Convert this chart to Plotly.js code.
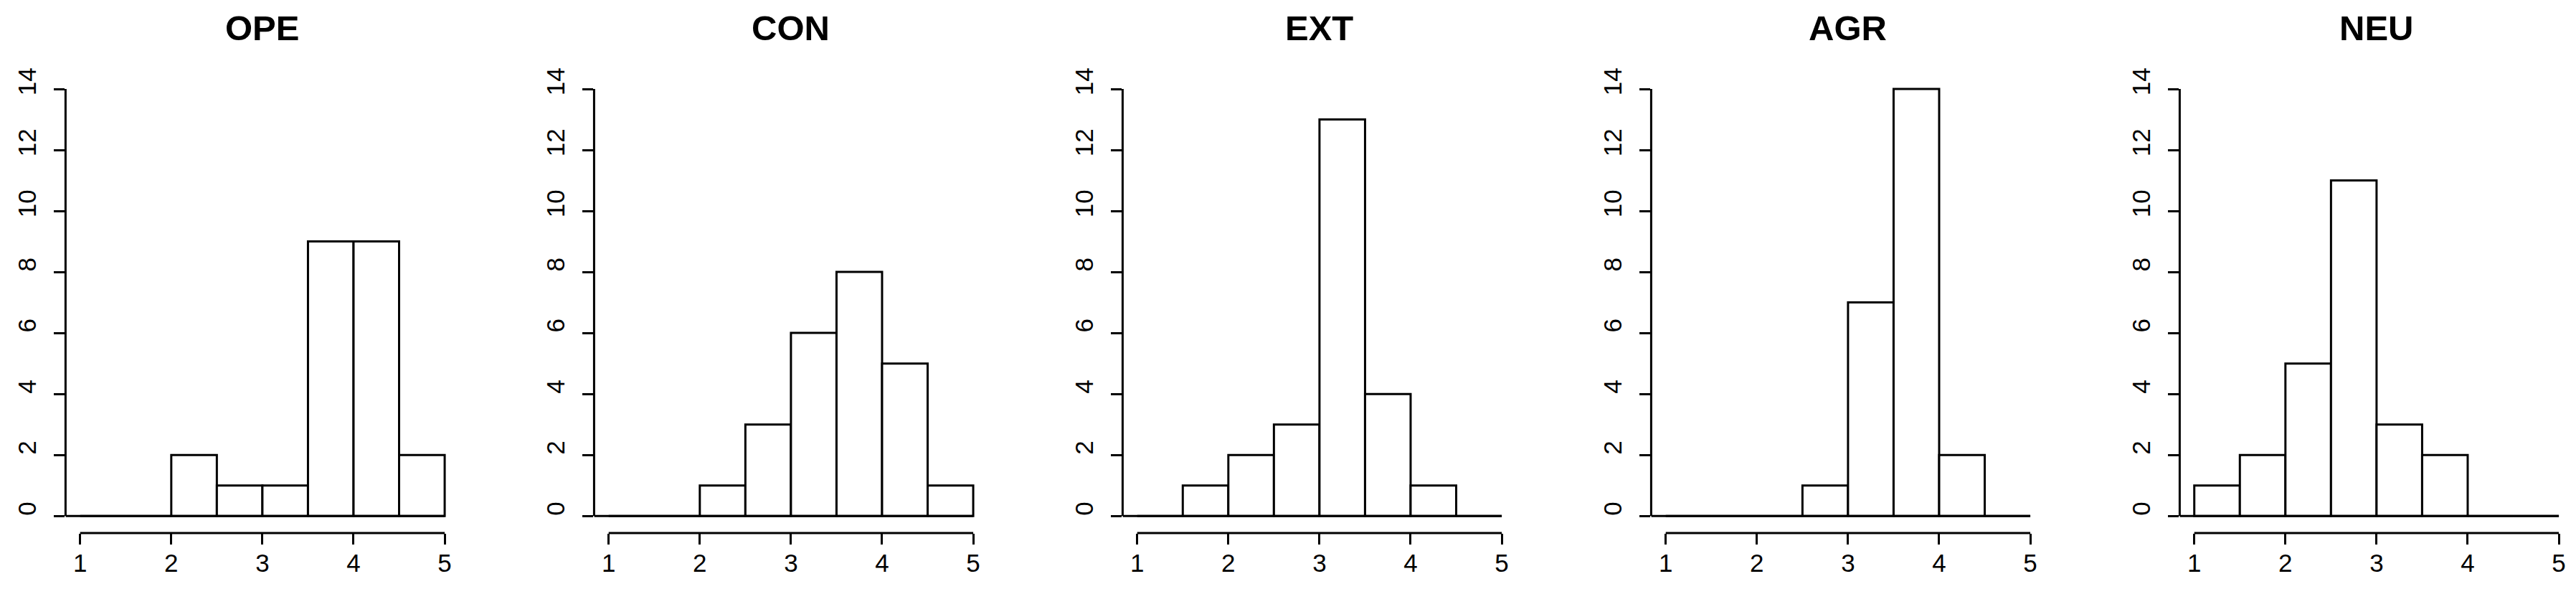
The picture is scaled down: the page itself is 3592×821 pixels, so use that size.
<!DOCTYPE html>
<html>
<head>
<meta charset="utf-8">
<script src="https://cdn.plot.ly/plotly-3.0.1.min.js"></script>
<style>
  html, body { margin: 0; padding: 0; background: #fff; }
  #chart { width: 3592px; height: 821px; }
</style>
</head>
<body>
<div id="chart"></div>
<script>
// 直方圖資料：五個人格向度，每格寬 0.5
const breaks = [1, 1.5, 2, 2.5, 3, 3.5, 4, 4.5, 5];
const traitNames = ['OPE', 'CON', 'EXT', 'AGR', 'NEU'];
const opeCounts = [0, 0, 2, 1, 1, 9, 9, 2];
const conCounts = [0, 0, 1, 3, 6, 8, 5, 1];
const extCounts = [0, 1, 2, 3, 13, 4, 1, 0];
const agrCounts = [0, 0, 0, 1, 7, 14, 2, 0];
const neuCounts = [1, 2, 5, 11, 3, 2, 0, 0];
const xTicks = [1, 2, 3, 4, 5];
const yTicks = [0, 2, 4, 6, 8, 10, 12, 14];

const allCounts = [opeCounts, conCounts, extCounts, agrCounts, neuCounts];

// 版面（像素）
const W = 3592, H = 821;
const plotLeft = 91.4, plotWidth = 549, panelStep = 737;
const plotTop = 100.2, plotBottom = 743;
const fontFamily = '"Liberation Sans", Arial, Helvetica, sans-serif';
const tickSize = 35;

// R 風格的座標範圍：兩端各延伸 4%
function padRange(lo, hi) {
  const d = (hi - lo) * 0.04;
  return [lo - d, hi + d];
}
const xRange = padRange(breaks[0], breaks[breaks.length - 1]);
const yRange = padRange(yTicks[0], yTicks[yTicks.length - 1]);

const traces = [];
const layout = {
  width: W,
  height: H,
  margin: { l: 0, r: 0, t: 0, b: 0 },
  paper_bgcolor: 'white',
  plot_bgcolor: 'white',
  showlegend: false,
  bargap: 0,
  font: { family: fontFamily, color: 'black', size: tickSize },
  shapes: [],
  annotations: []
};

allCounts.forEach((counts, i) => {
  const n = i + 1;
  const xName = n === 1 ? 'x' : 'x' + n;
  const yName = n === 1 ? 'y' : 'y' + n;
  const xKey = n === 1 ? 'xaxis' : 'xaxis' + n;
  const yKey = n === 1 ? 'yaxis' : 'yaxis' + n;

  // 每個 bin 的中心和寬度
  const centers = [], widths = [];
  for (let k = 0; k < counts.length; k++) {
    centers.push((breaks[k] + breaks[k + 1]) / 2);
    widths.push(breaks[k + 1] - breaks[k]);
  }

  traces.push({
    type: 'bar',
    x: centers,
    y: counts,
    width: widths,
    xaxis: xName,
    yaxis: yName,
    marker: { color: 'white', line: { color: 'black', width: 3 } },
    hoverinfo: 'x+y'
  });

  const left = (plotLeft + panelStep * i) / W;
  const right = (plotLeft + plotWidth + panelStep * i) / W;

  layout[xKey] = {
    domain: [left, right],
    range: xRange,
    anchor: yName,
    showline: false,
    showgrid: false,
    zeroline: false,
    tickmode: 'array',
    tickvals: xTicks,
    ticktext: xTicks.map(String),
    ticks: 'outside',
    ticklen: 15,
    tickwidth: 3,
    tickcolor: 'black',
    ticklabelstandoff: -4,
    tickfont: { size: tickSize, family: fontFamily, color: 'black' }
  };
  layout[yKey] = {
    domain: [1 - plotBottom / H, 1 - plotTop / H],
    range: yRange,
    anchor: xName,
    showline: false,
    showgrid: false,
    zeroline: false,
    tickmode: 'array',
    tickvals: yTicks,
    ticktext: yTicks.map(String),
    ticks: 'outside',
    ticklen: 15,
    tickwidth: 3,
    tickcolor: 'black',
    tickangle: -90,
    ticklabelstandoff: 11,
    ticklabelshift: -5,
    tickfont: { size: tickSize, family: fontFamily, color: 'black' }
  };

  // x 軸線只畫到刻度兩端
  layout.shapes.push({
    type: 'line', xref: xName, yref: yName + ' domain',
    x0: xTicks[0], x1: xTicks[xTicks.length - 1], y0: 0, y1: 0,
    line: { color: 'black', width: 3 }
  });
  // y 軸線
  layout.shapes.push({
    type: 'line', xref: xName + ' domain', yref: yName,
    x0: 0, x1: 0, y0: yTicks[0], y1: yTicks[yTicks.length - 1],
    line: { color: 'black', width: 3 }
  });
  // 底線（空的 bin 也畫成一條線）
  layout.shapes.push({
    type: 'line', xref: xName, yref: yName,
    x0: xRange[0], x1: breaks[breaks.length - 1], y0: 0, y1: 0,
    line: { color: 'black', width: 3 }
  });

  // 標題
  layout.annotations.push({
    text: '<b>' + traitNames[i] + '</b>',
    xref: 'paper', yref: 'paper',
    x: (left + right) / 2, y: 1 - 39 / H,
    xanchor: 'center', yanchor: 'middle',
    showarrow: false,
    font: { size: 49, family: fontFamily, color: 'black' }
  });
});

Plotly.newPlot('chart', traces, layout, { displayModeBar: false, staticPlot: true });
</script>
</body>
</html>
